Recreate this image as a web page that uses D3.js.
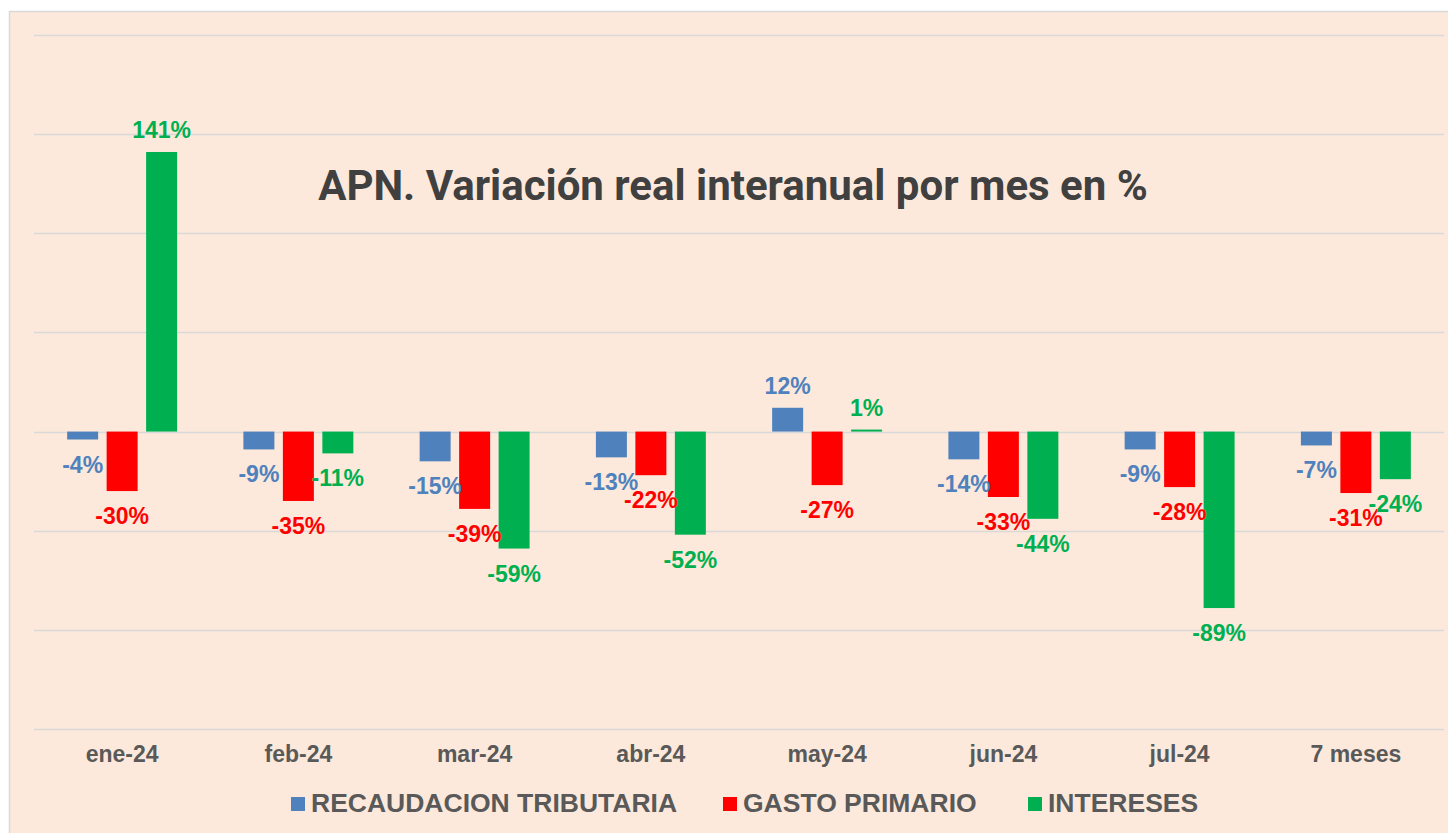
<!DOCTYPE html>
<html><head><meta charset="utf-8">
<script src="https://cdn.jsdelivr.net/npm/d3@7"></script>
<style>html,body{margin:0;padding:0;background:#fff;overflow:hidden}</style>
</head><body>
<svg id="chart" width="1448" height="833"></svg>
<script>
const categories = ["ene-24","feb-24","mar-24","abr-24","may-24","jun-24","jul-24","7 meses"];
const seriesNames = ["RECAUDACION TRIBUTARIA","GASTO PRIMARIO","INTERESES"];
const recaudacion = [-4,-9,-15,-13,12,-14,-9,-7];
const gasto = [-30,-35,-39,-22,-27,-33,-28,-31];
const intereses = [141,-11,-59,-52,1,-44,-89,-24];
const yTicks = [-150,-100,-50,0,50,100,150,200];
const colors = ["#4F81BD","#FF0000","#00B050"];
const title = "APN. Variación real interanual por mes en %";

const seriesValues = [recaudacion, gasto, intereses];
const data = categories.map((c,i)=>({cat:c, vals: seriesNames.map((s,j)=>({s, v: seriesValues[j][i], j}))}));

const svg = d3.select("#chart");
svg.append("rect").attr("x",9.5).attr("y",11.5).attr("width",1450).attr("height",830)
  .attr("fill","#FCE9DB").attr("stroke","#D9D9D9").attr("stroke-width",1.5);

const left = 34, right = 1444;
const y = d3.scaleLinear().domain([-150,200]).range([729,35]);
const x0 = d3.scaleBand().domain(categories).range([left,right]).paddingInner(0.328).paddingOuter(0.164);
const x1 = d3.scaleBand().domain(seriesNames).range([0,x0.bandwidth()]).paddingInner(0.215).paddingOuter(0.1075);

// gridlines
svg.append("g").selectAll("line").data(yTicks).join("line")
  .attr("x1",left).attr("x2",right)
  .attr("y1",d=>Math.round(y(d))+0.5).attr("y2",d=>Math.round(y(d))+0.5)
  .attr("stroke","#D9D9D9").attr("stroke-width",1.5);

// title
svg.append("text").attr("x",733).attr("y",200).attr("text-anchor","middle")
  .attr("font-family","Roboto").attr("font-weight","bold").attr("font-size",42)
  .attr("fill","#404040").text(title);

const g = svg.append("g").selectAll("g").data(data).join("g")
  .attr("transform",d=>`translate(${x0(d.cat)},0)`);
g.selectAll("rect").data(d=>d.vals).join("rect")
  .attr("x",d=>x1(d.s)).attr("width",x1.bandwidth())
  .attr("y",d=>y(Math.max(0,d.v))).attr("height",d=>Math.abs(y(d.v)-y(0)))
  .attr("fill",d=>colors[d.j]);
g.selectAll("text").data(d=>d.vals).join("text")
  .attr("x",d=>x1(d.s)+x1.bandwidth()/2)
  .attr("y",d=>d.v>=0 ? y(d.v)-14 : y(d.v)+33)
  .attr("text-anchor","middle")
  .attr("font-family","Liberation Sans, Arial").attr("font-weight","bold").attr("font-size",23)
  .attr("fill",d=>colors[d.j]).text(d=>d.v+"%");

// x axis labels
const xAxis = d3.axisBottom(x0).tickSize(0).tickPadding(0);
const ax = svg.append("g").attr("transform","translate(0,746)").call(xAxis);
ax.select(".domain").remove();
ax.selectAll("text").attr("font-family","Liberation Sans, Arial").attr("font-weight","bold")
  .attr("font-size",23).attr("fill","#595959").attr("dy","0.71em");

// legend
const legendX = [291,723,1028];
const lg = svg.append("g").selectAll("g").data(seriesNames).join("g")
  .attr("transform",(d,i)=>`translate(${legendX[i]},0)`);
lg.append("rect").attr("x",0).attr("y",797).attr("width",14).attr("height",14).attr("fill",(d,i)=>colors[i]);
lg.append("text").attr("x",20).attr("y",812).attr("font-family","Liberation Sans, Arial")
  .attr("font-weight","bold").attr("font-size",26.5).attr("fill","#595959").text(d=>d);
</script>
</body></html>
